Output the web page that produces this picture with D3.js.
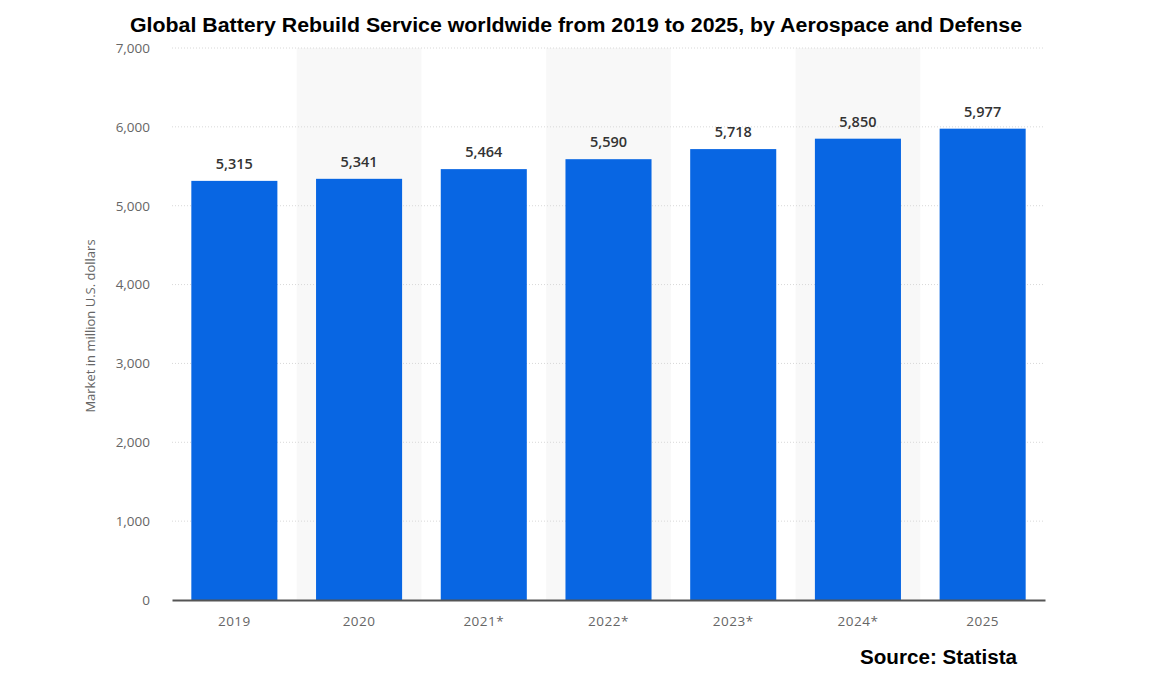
<!DOCTYPE html>
<html lang="en">
<head>
<meta charset="UTF-8">
<title>Battery Rebuild Service</title>
<style>
  body { margin: 0; background: #fff; }
  .tick text { font-family: "Open Sans", sans-serif; fill: #666; }
</style>
</head>
<body>
<div id="chart"></div>
<script src="https://d3js.org/d3.v7.min.js"></script>
<script>
var years = ['2019', '2020', '2021*', '2022*', '2023*', '2024*', '2025'];
var values = [5315, 5341, 5464, 5590, 5718, 5850, 5977];
var yTicks = [0, 1000, 2000, 3000, 4000, 5000, 6000, 7000];

var W = 1151, H = 680;
var mLeft = 172, mRight = 1045, mTop = 48, mBottom = 600;

var svg = d3.select('#chart').append('svg')
  .attr('width', W).attr('height', H);

var x = d3.scaleBand().domain(years).range([mLeft, mRight]).paddingInner(0.31).paddingOuter(0.155);
var xb = d3.scaleBand().domain(years).range([mLeft, mRight]);
var y = d3.scaleLinear().domain([0, 7000]).range([mBottom, mTop]);

// alternate shaded bands
svg.selectAll('rect.band')
  .data(years.filter((d, i) => i % 2 == 1))
  .enter().append('rect')
  .attr('class', 'band')
  .attr('x', d => xb(d))
  .attr('width', xb.bandwidth())
  .attr('y', mTop)
  .attr('height', mBottom - mTop)
  .attr('fill', '#f8f8f8');

// gridlines
svg.selectAll('line.grid')
  .data(yTicks.slice(1))
  .enter().append('line')
  .attr('x1', mLeft).attr('x2', mRight)
  .attr('y1', d => y(d)).attr('y2', d => y(d))
  .attr('stroke', '#d8d8d8')
  .attr('stroke-dasharray', '1,2');

// y axis
var yAxis = svg.append('g')
  .attr('transform', 'translate(' + mLeft + ',0)')
  .call(d3.axisLeft(y).tickValues(yTicks).tickSize(0).tickPadding(22).tickFormat(d3.format(',')));
yAxis.select('.domain').remove();
yAxis.selectAll('text').attr('font-size', 13.5);

// bars
svg.selectAll('rect.bar')
  .data(values)
  .enter().append('rect')
  .attr('class', 'bar')
  .attr('x', (d, i) => x(years[i]))
  .attr('width', x.bandwidth())
  .attr('y', d => y(d))
  .attr('height', d => mBottom - y(d))
  .attr('fill', '#0866e3');

svg.selectAll('text.val')
  .data(values)
  .enter().append('text')
  .attr('x', (d, i) => x(years[i]) + x.bandwidth() / 2)
  .attr('y', d => y(d) - 12)
  .attr('text-anchor', 'middle')
  .attr('font-family', 'Open Sans, sans-serif')
  .attr('font-weight', 600)
  .attr('font-size', 14.5)
  .attr('fill', '#333')
  .text(d => d3.format(',')(d));

// x axis
var xAxis = svg.append('g')
  .attr('transform', 'translate(0,' + mBottom + ')')
  .call(d3.axisBottom(xb).tickSize(0).tickPadding(16));
xAxis.select('.domain').attr('stroke', '#555').attr('stroke-width', 2);
xAxis.selectAll('text').attr('font-size', 13.5).style('letter-spacing', '0.5px');

// y label
svg.append('text')
  .attr('transform', 'translate(95,326) rotate(-90)')
  .attr('text-anchor', 'middle')
  .attr('font-family', 'Open Sans, sans-serif')
  .attr('font-size', 13)
  .attr('fill', '#666')
  .text('Market in million U.S. dollars');

// title
svg.append('text')
  .attr('x', 576).attr('y', 32)
  .attr('text-anchor', 'middle')
  .attr('font-family', 'Liberation Sans, sans-serif')
  .attr('font-weight', 'bold')
  .attr('font-size', 20)
  .attr('textLength', 892)
  .attr('lengthAdjust', 'spacingAndGlyphs')
  .attr('fill', '#000')
  .text('Global Battery Rebuild Service worldwide from 2019 to 2025, by Aerospace and Defense');

svg.append('text')
  .attr('x', 1017).attr('y', 664)
  .attr('text-anchor', 'end')
  .attr('font-family', 'Liberation Sans, sans-serif')
  .attr('font-weight', 'bold')
  .attr('font-size', 20)
  .attr('textLength', 157)
  .attr('lengthAdjust', 'spacingAndGlyphs')
  .attr('fill', '#000')
  .text('Source: Statista');
</script>
</body>
</html>
